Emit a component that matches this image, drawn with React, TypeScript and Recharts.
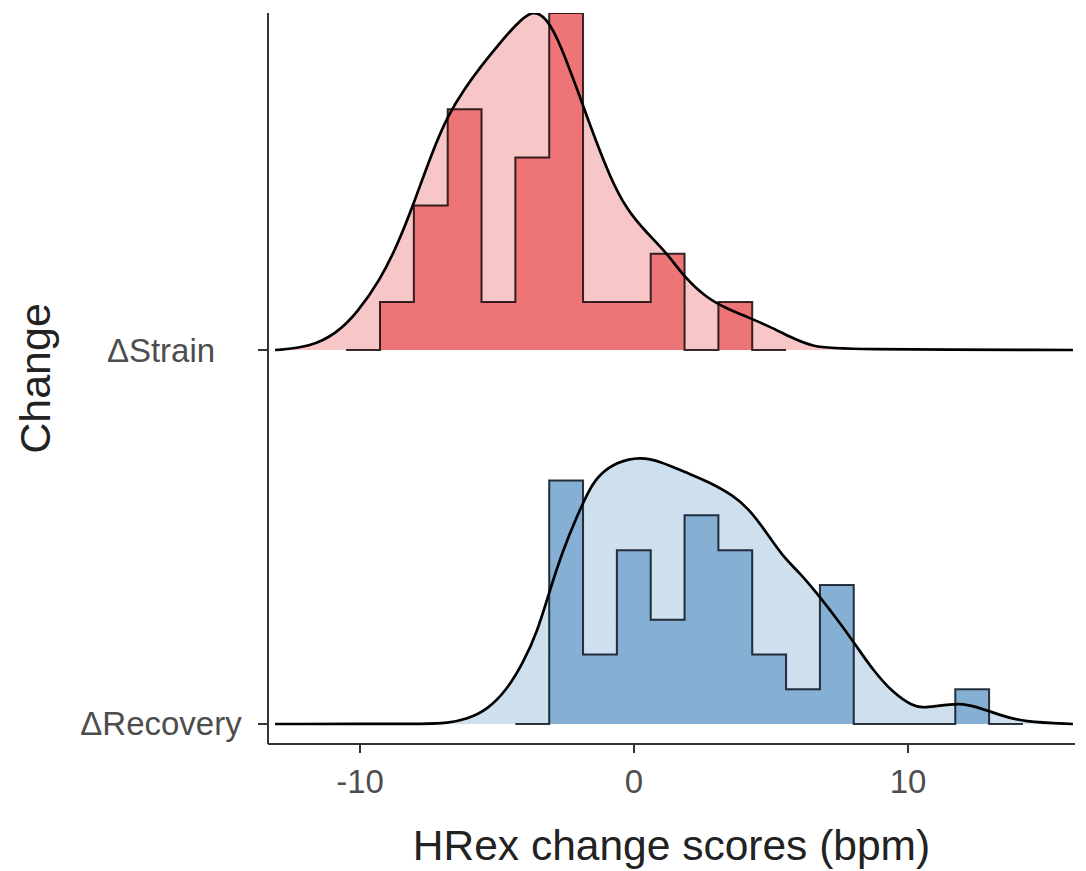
import React from 'react';
import { ComposedChart, Area, Line, XAxis, YAxis, Label } from 'recharts';

// ---- data ----
const groupLabels = ['ΔRecovery', 'ΔStrain'];
const xTicks = [-10, 0, 10];

// histogram bins (shared bin grid)
const binStart = -9.27;
const binWidth = 1.235;
const strainFirstBin = 0;
const strainCounts = [1, 3, 5, 1, 4, 7, 1, 1, 2, 0, 1];
const recoveryFirstBin = 5;
const recoveryCounts = [7, 2, 5, 3, 6, 5, 2, 1, 4, 0, 0, 0, 1];

// density curves (x, density)
const strainDensX = [-13.1, -11.82, -10.84, -10.11, -9.27, -8.65, -8.03, -7.41, -6.79, -6.17, -5.55, -4.93, -4.31, -3.69, -3.18, -2.7, -1.97, -1.5, -0.88, -0.26, 0.47, 1.2, 1.86, 2.66, 3.39, 4.23, 5.07, 5.8, 6.53, 7.52, 16.02];
const strainDensY = [0, 0.0019, 0.011, 0.0239, 0.0453, 0.0673, 0.0951, 0.1261, 0.152, 0.1695, 0.1843, 0.1979, 0.2105, 0.2205, 0.2145, 0.1986, 0.1636, 0.1404, 0.1119, 0.0906, 0.0757, 0.0627, 0.0466, 0.0336, 0.0268, 0.0207, 0.0142, 0.0075, 0.0022, 0.0003, 0];

const recoveryDensX = [-13.1, -7.55, -6.82, -6.09, -5.36, -4.64, -4.05, -3.54, -3.07, -2.59, -2.08, -1.61, -1.24, -0.62, 0.22, 0.95, 1.93, 2.66, 3.61, 4.23, 4.85, 5.44, 6.06, 6.79, 7.52, 8.14, 8.72, 9.45, 10.18, 10.55, 10.91, 11.9, 12.52, 13.36, 14.2, 16.02];
const recoveryDensY = [0, 0, 0.0006, 0.0032, 0.0091, 0.022, 0.0395, 0.0589, 0.0867, 0.1125, 0.1345, 0.1527, 0.1617, 0.1695, 0.1728, 0.17, 0.1624, 0.1572, 0.1481, 0.1384, 0.1235, 0.108, 0.0977, 0.0821, 0.0653, 0.0498, 0.0349, 0.0201, 0.0115, 0.0106, 0.0112, 0.0138, 0.011, 0.0058, 0.0013, 0];

// ridge baselines (y units) and y range
const RECOVERY_BASE = 0;
const STRAIN_BASE = 0.2419;
const Y_DOMAIN: [number, number] = [-0.01294, 0.4599];
const X_DOMAIN: [number, number] = [-13.358, 16.095];

// ---- helpers ----
function histPoints(counts: number[], firstBin: number, base: number) {
  const n = counts.reduce((a, b) => a + b, 0);
  const x0 = binStart + firstBin * binWidth;
  const pts = [{ x: x0 - binWidth, y: base }];
  counts.forEach((c, i) => pts.push({ x: x0 + i * binWidth, y: base + c / (n * binWidth) }));
  pts.push({ x: x0 + counts.length * binWidth, y: base });
  pts.push({ x: x0 + (counts.length + 1) * binWidth, y: base });
  return pts;
}
function densPoints(xs: number[], ys: number[], base: number) {
  return xs.map((x, i) => ({ x, y: base + ys[i] }));
}

const strainHist = histPoints(strainCounts, strainFirstBin, STRAIN_BASE);
const recoveryHist = histPoints(recoveryCounts, recoveryFirstBin, RECOVERY_BASE);
const strainDens = densPoints(strainDensX, strainDensY, STRAIN_BASE);
const recoveryDens = densPoints(recoveryDensX, recoveryDensY, RECOVERY_BASE);

const FONT = '"Liberation Sans", Arial, Helvetica, sans-serif';
const AXIS_COLOR = '#333333';

const YTitle = (props: any) => {
  const vb = props.viewBox || { x: 0, y: 0, width: 0, height: 0 };
  const cx = vb.x + 35;
  const cy = vb.y + vb.height / 2;
  return (
    <text
      x={cx}
      y={cy}
      transform={`rotate(-90, ${cx}, ${cy})`}
      textAnchor="middle"
      dominantBaseline="central"
      fontSize={43}
      fontFamily={FONT}
      fill="#222222"
    >
      Change
    </text>
  );
};

// y tick labels are centred on a common column, as in the reference
const YTick = (props: any) => {
  const { x, y, payload } = props;
  const label = Math.abs(payload.value - STRAIN_BASE) < 1e-6 ? groupLabels[1] : groupLabels[0];
  return (
    <text
      x={x - 83}
      y={y}
      textAnchor="middle"
      dominantBaseline="central"
      fontSize={33}
      fontFamily={FONT}
      fill="#4d4d4d"
    >
      {label}
    </text>
  );
};

export default function App() {
  return (
    <div style={{ position: 'absolute', left: 0, top: 0, width: 1086, height: 871, background: '#ffffff' }}>
      <ComposedChart width={1086} height={871} margin={{ top: 13, right: 11, bottom: 0, left: 0 }}>
        <XAxis
          type="number"
          dataKey="x"
          domain={X_DOMAIN}
          allowDataOverflow
          ticks={xTicks}
          interval={0}
          height={127}
          tickSize={9}
          tickMargin={17}
          axisLine={{ stroke: AXIS_COLOR, strokeWidth: 2 }}
          tickLine={{ stroke: AXIS_COLOR, strokeWidth: 2 }}
          tick={{ fill: '#4d4d4d', fontSize: 33, fontFamily: FONT }}
        >
          <Label
            value="HRex change scores (bpm)"
            position="insideBottom"
            offset={11}
            style={{ fontSize: 42.5, fontFamily: FONT, fill: '#222222' }}
          />
        </XAxis>
        <YAxis
          type="number"
          domain={Y_DOMAIN}
          allowDataOverflow
          ticks={[RECOVERY_BASE, STRAIN_BASE]}
          interval={0}
          width={268}
          tickSize={10}
          tickMargin={14}
          axisLine={{ stroke: AXIS_COLOR, strokeWidth: 2 }}
          tickLine={{ stroke: AXIS_COLOR, strokeWidth: 2 }}
          tick={<YTick />}
        >
          <Label content={<YTitle />} />
        </YAxis>

        {/* density fills */}
        <Area data={strainDens} dataKey="y" type="basis" baseValue={STRAIN_BASE} fill="#F7C6C7" fillOpacity={1} stroke="none" dot={false} activeDot={false} isAnimationActive={false} />
        <Area data={recoveryDens} dataKey="y" type="basis" baseValue={RECOVERY_BASE} fill="#CEDFEE" fillOpacity={1} stroke="none" dot={false} activeDot={false} isAnimationActive={false} />

        {/* histograms */}
        <Area data={strainHist} dataKey="y" type="stepAfter" baseValue={STRAIN_BASE} fill="#EE7577" fillOpacity={1} stroke="rgba(20,8,8,0.85)" strokeWidth={2} dot={false} activeDot={false} isAnimationActive={false} />
        <Area data={recoveryHist} dataKey="y" type="stepAfter" baseValue={RECOVERY_BASE} fill="#86AFD4" fillOpacity={1} stroke="rgba(8,18,28,0.85)" strokeWidth={2} dot={false} activeDot={false} isAnimationActive={false} />

        {/* density lines */}
        <Line data={strainDens} dataKey="y" type="basis" stroke="#000000" strokeWidth={2.7} dot={false} activeDot={false} isAnimationActive={false} />
        <Line data={recoveryDens} dataKey="y" type="basis" stroke="#000000" strokeWidth={2.7} dot={false} activeDot={false} isAnimationActive={false} />
      </ComposedChart>
    </div>
  );
}
